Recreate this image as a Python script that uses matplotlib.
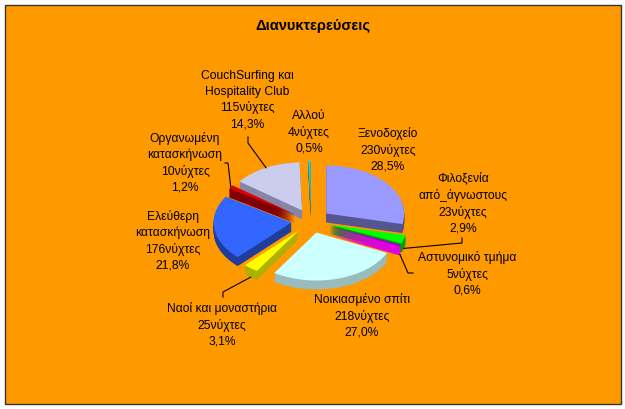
import numpy as np
import matplotlib
matplotlib.use("Agg")
import matplotlib.pyplot as plt
from matplotlib.patches import Rectangle

plt.rcParams['font.family'] = ['Liberation Sans', 'DejaVu Sans']

# data
categories = ["Ξενοδοχείο", "Φιλοξενία\nαπό_άγνωστους", "Αστυνομικό τμήμα",
              "Νοικιασμένο σπίτι", "Ναοί και μοναστήρια", "Ελεύθερη\nκατασκήνωση",
              "Οργανωμένη\nκατασκήνωση", "CouchSurfing και\nHospitality Club", "Αλλού"]
nights = [230, 23, 5, 218, 25, 176, 10, 115, 4]

top_colors = ['#9999FF', '#00FF00', '#9900CC', '#CCFFFF', '#FFFF00',
              '#3366FF', '#DD0000', '#CCCCEE', '#33CCCC']
side_colors = ['#55558F', '#00A000', '#E000E0', '#99BBBB', '#B0B000',
               '#1F3D99', '#800000', '#8585A5', '#1F8080']

# layout (pixels, y down)
W, H = 625, 409
cx, cy = 311, 221
R, Ry = 78, 48
depth = 9
expl = 0.25
label_xy = [(388, 150), (463, 203), (467, 274), (362, 316), (222, 325),
            (173, 241), (185, 163), (247, 100), (309, 132)]
leaders = {7: [(248, 137), (248, 143)], 6: [(225, 163), (228, 163)],
           1: [(462, 238), (462, 243)], 2: [(413, 273), (408, 273)],
           4: [(223, 297), (223, 292)]}

fig = plt.figure(figsize=(W / 100, H / 100), dpi=100)
fig.patch.set_facecolor('white')

ax_bg = fig.add_axes([0, 0, 1, 1])
ax_bg.set_xlim(0, W)
ax_bg.set_ylim(H, 0)
ax_bg.axis('off')
ax_bg.add_patch(Rectangle((4.5, 4.5), 616, 399, facecolor='#FF9900',
                          edgecolor='#333333', linewidth=1))

# pie axes: 1 unit = R px in x, Ry px in y
ax_p = fig.add_axes([(cx - 1.6 * R) / W, (H - cy - 1.6 * Ry) / H,
                     3.2 * R / W, 3.2 * Ry / H])
explode = [expl] * len(nights)
for d in np.linspace(depth / Ry, 0, 12)[:-1]:
    ax_p.pie(nights, colors=side_colors, explode=explode, startangle=90,
             counterclock=False, center=(0, -d), wedgeprops=dict(linewidth=0))
ax_p.pie(nights, colors=top_colors, explode=explode, startangle=90,
         counterclock=False, center=(0, 0), wedgeprops=dict(linewidth=0))
ax_p.set_aspect('auto')
ax_p.set_xlim(-1.6, 1.6)
ax_p.set_ylim(-1.6, 1.6)
ax_p.axis('off')

ax_o = fig.add_axes([0, 0, 1, 1])
ax_o.set_xlim(0, W)
ax_o.set_ylim(H, 0)
ax_o.axis('off')
ax_o.patch.set_alpha(0)

ax_o.text(313, 26, "Διανυκτερεύσεις", ha='center', va='center',
          fontsize=10.5, fontweight='bold')

total = sum(nights)
cum = 0
for i, (cat, n) in enumerate(zip(categories, nights)):
    mid = np.radians(90 - 360 * (cum + n / 2) / total)
    cum += n
    pct = f"{100 * n / total:.1f}%".replace('.', ',')
    lx, ly = label_xy[i]
    ax_o.text(lx, ly, f"{cat}\n{n}νύχτες\n{pct}", ha='center', va='center',
              fontsize=8.7, linespacing=1.4)
    if i in leaders:
        rx = cx + (1 + expl) * R * np.cos(mid)
        ry = cy - (1 + expl) * Ry * np.sin(mid) + (depth if np.sin(mid) < 0 else 0)
        pts = leaders[i] + [(rx, ry)]
        ax_o.plot([p[0] for p in pts], [p[1] for p in pts], color='black', lw=0.8)

fig.savefig('out.png', dpi=100)
